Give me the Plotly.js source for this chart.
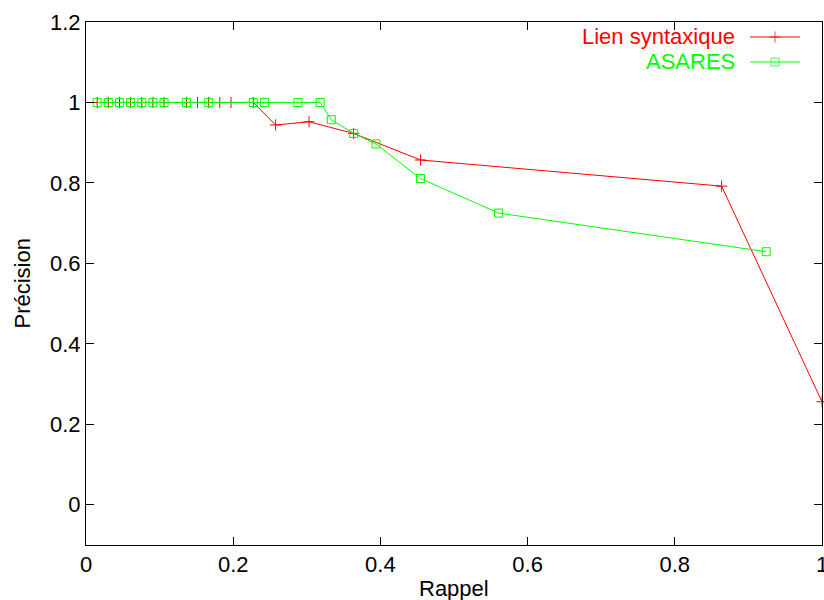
<!DOCTYPE html>
<html>
<head>
<meta charset="utf-8">
<script src="https://cdn.plot.ly/plotly-3.0.1.min.js"></script>
<style>html,body{margin:0;padding:0;background:#fff;}</style>
</head>
<body>
<div id="chart" style="width:824px;height:600px;"></div>
<script>
// Series: Lien syntaxique (red, '+')
const lienRappel = [0.0152, 0.0303, 0.0455, 0.0606, 0.0758, 0.0909, 0.1061, 0.1364, 0.1515, 0.1667, 0.1818, 0.1970, 0.2273, 0.2576, 0.3030, 0.3636, 0.4545, 0.8636, 1.0];
const lienPrecision = [1, 1, 1, 1, 1, 1, 1, 1, 1, 1, 1, 1, 1, 0.944, 0.952, 0.923, 0.857, 0.792, 0.256];

// Series: ASARES (green, open squares)
const asaresRappel = [0.0152, 0.0303, 0.0455, 0.0606, 0.0758, 0.0909, 0.1061, 0.1364, 0.1667, 0.2273, 0.2424, 0.2879, 0.3182, 0.3333, 0.3636, 0.3939, 0.4545, 0.5606, 0.9242];
const asaresPrecision = [1, 1, 1, 1, 1, 1, 1, 1, 1, 1, 1, 1, 1, 0.957, 0.923, 0.897, 0.811, 0.725, 0.629];

// Tick labels
const xTickVals = [0, 0.2, 0.4, 0.6, 0.8, 1];
const xTickText = ["0", "0.2", "0.4", "0.6", "0.8", "1"];
const yTickVals = [0, 0.2, 0.4, 0.6, 0.8, 1, 1.2];
const yTickText = ["0", "0.2", "0.4", "0.6", "0.8", "1", "1.2"];

const seriesNames = ["Lien syntaxique", "ASARES"];
const xTitle = "Rappel";
const yTitle = "Précision";

const RED = "#ff0000", GREEN = "#00ff00";
const FONT = "Liberation Sans, Arial, Helvetica, sans-serif";
const FS = 22;

const traces = [
  {
    x: lienRappel, y: lienPrecision, name: seriesNames[0], type: "scatter", mode: "lines+markers",
    line: {color: RED, width: 1},
    marker: {symbol: "cross-thin-open", size: 8, color: RED, line: {color: RED, width: 1}},
    cliponaxis: false
  },
  {
    x: asaresRappel, y: asaresPrecision, name: seriesNames[1], type: "scatter", mode: "lines+markers",
    line: {color: GREEN, width: 1},
    marker: {symbol: "square-open", size: 8, color: GREEN, line: {color: GREEN, width: 1}},
    cliponaxis: false
  }
];

const axisCommon = {
  showline: true, linecolor: "#000", linewidth: 1, mirror: "allticks",
  ticks: "inside", ticklen: 8, tickwidth: 1, tickcolor: "#000",
  showgrid: false, zeroline: false,
  tickfont: {family: FONT, size: FS, color: "#000"},
  tickmode: "array", ticklabeloverflow: "allow"
};

// plot-area pixel geometry
const L = 86, R = 822, T = 22, B = 545;
const legendY = [37, 62];
const annotations = [];
seriesNames.forEach((nm, i) => {
  const col = i === 0 ? RED : GREEN;
  annotations.push({
    xref: "paper", yref: "paper", x: (737 - L) / (R - L), y: (B - legendY[i]) / (B - T),
    xanchor: "right", yanchor: "middle", showarrow: false,
    text: nm, font: {family: FONT, size: FS, color: col}
  });
});
// axis titles as annotations for precise placement
annotations.push({
  xref: "paper", yref: "paper", x: (22 - L) / (R - L), y: 0.5,
  xanchor: "center", yanchor: "middle", showarrow: false, textangle: -90,
  text: yTitle, font: {family: FONT, size: FS, color: "#000"}
});
annotations.push({
  xref: "paper", yref: "paper", x: 0.5, y: (B - 588) / (B - T),
  xanchor: "center", yanchor: "middle", showarrow: false,
  text: xTitle, font: {family: FONT, size: FS, color: "#000"}
});

const layout = {
  width: 824, height: 600,
  margin: {l: L, r: 824 - R, t: T, b: 600 - B},
  paper_bgcolor: "#fff", plot_bgcolor: "#fff",
  showlegend: false,
  font: {family: FONT, size: FS, color: "#000"},
  xaxis: Object.assign({}, axisCommon, {
    range: [0, 1], tickvals: xTickVals, ticktext: xTickText
  }),
  yaxis: Object.assign({}, axisCommon, {
    range: [-0.1, 1.2], tickvals: yTickVals, ticktext: yTickText
  }),
  annotations: annotations
};

// legend samples (gnuplot style: sample to the right of the text)
const legX0 = 750, legX1 = 800, legM = 775;
const legendTraces = seriesNames.map((nm, i) => {
  const src = traces[i];
  return {
    x: [legX0, legM, legX1], y: [legendY[i], legendY[i], legendY[i]],
    xaxis: "x2", yaxis: "y2", type: "scatter", mode: "lines+markers",
    line: src.line, hoverinfo: "skip",
    marker: Object.assign({}, src.marker, {size: [0, src.marker.size, 0]}),
    showlegend: false, cliponaxis: false
  };
});
layout.xaxis2 = {overlaying: "x", range: [L, R], visible: false, fixedrange: true};
layout.yaxis2 = {overlaying: "y", range: [B, T], visible: false, fixedrange: true};

Plotly.newPlot("chart", traces.concat(legendTraces), layout, {staticPlot: true});
</script>
</body>
</html>
